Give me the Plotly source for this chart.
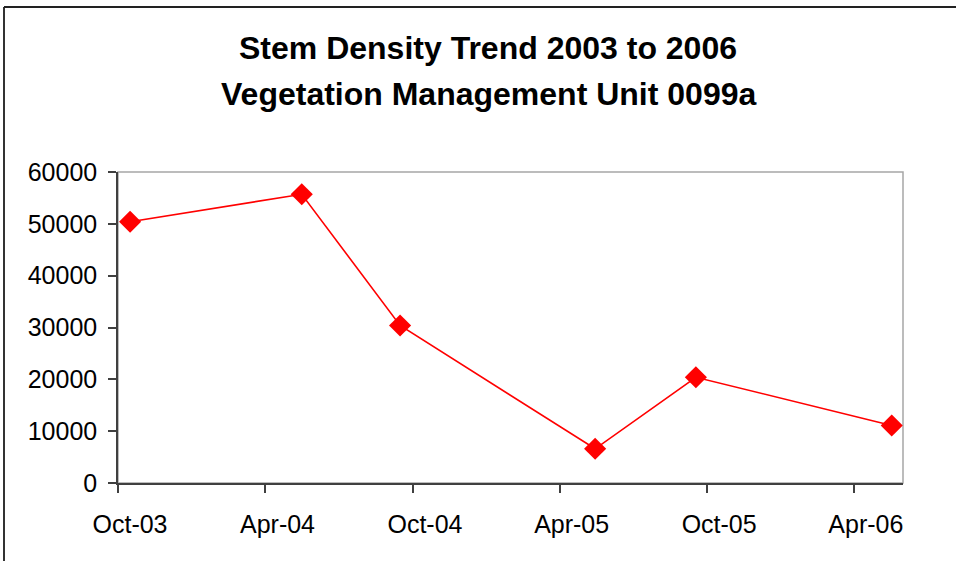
import plotly.graph_objects as go

# Data
dates = ["2003-10-16", "2004-05-16", "2004-09-15", "2005-05-15", "2005-09-17", "2006-05-18"]
stem_density = [50400, 55700, 30400, 6600, 20400, 11100]

tick_dates = ["2003-10-01", "2004-04-01", "2004-10-01", "2005-04-01", "2005-10-01", "2006-04-01"]
tick_labels = ["Oct-03", "Apr-04", "Oct-04", "Apr-05", "Oct-05", "Apr-06"]

title_line1 = "Stem Density Trend 2003 to 2006"
title_line2 = "Vegetation Management Unit 0099a"

W, H = 956, 561
L, R, T, B = 118, 53, 172, 78
pw = W - L - R
ph = H - T - B

def px_x(x):
    return (x - L) / pw

def px_y(y):
    return (H - B - y) / ph

font = "Liberation Sans, Arial, sans-serif"
axis_col = "#404040"

fig = go.Figure()
fig.add_trace(go.Scatter(
    x=dates, y=stem_density, mode="lines+markers",
    line=dict(color="#FF0000", width=1.6),
    marker=dict(symbol="diamond", size=17, color="#FF0000"),
    cliponaxis=False, showlegend=False,
))

fig.update_layout(
    width=W, height=H,
    margin=dict(l=L, r=R, t=T, b=B),
    paper_bgcolor="white", plot_bgcolor="white",
    font=dict(family=font, color="black"),
    xaxis=dict(
        type="date", range=["2003-10-01", "2006-06-01"],
        tickvals=tick_dates, ticktext=tick_labels,
        showgrid=False, zeroline=False,
        showline=True, linecolor=axis_col, linewidth=1.5,
        ticks="outside", ticklen=8, tickwidth=1.5, tickcolor=axis_col,
        tickfont=dict(size=25, family=font, color="black"),
        ticklabelstandoff=10, ticklabelshift=12,
    ),
    yaxis=dict(
        range=[0, 60000], dtick=10000, tick0=0, tickformat="d",
        showgrid=False, zeroline=False,
        showline=True, linecolor=axis_col, linewidth=1.5,
        ticks="outside", ticklen=8, tickwidth=1.5, tickcolor=axis_col,
        tickfont=dict(size=25, family=font, color="black"),
        ticklabelstandoff=6,
    ),
    shapes=[
        dict(type="rect", xref="paper", yref="paper", x0=0, x1=1, y0=0, y1=1,
             line=dict(color="#A6A6A6", width=1.5), layer="below"),
        dict(type="line", xref="paper", yref="paper",
             x0=px_x(4), x1=px_x(4), y0=px_y(7), y1=px_y(H + 10),
             line=dict(color="#333333", width=2)),
        dict(type="line", xref="paper", yref="paper",
             x0=px_x(4), x1=px_x(W + 10), y0=px_y(7), y1=px_y(7),
             line=dict(color="#222222", width=2)),
    ],
    annotations=[
        dict(text="<b>" + title_line1 + "</b>", xref="paper", yref="paper",
             x=px_x(488), y=px_y(48), xanchor="center", yanchor="middle",
             showarrow=False, font=dict(size=32, family=font, color="black")),
        dict(text="<b>" + title_line2 + "</b>", xref="paper", yref="paper",
             x=px_x(488), y=px_y(94), xanchor="center", yanchor="middle",
             showarrow=False, font=dict(size=32, family=font, color="black")),
    ],
)

fig.write_html("out.html", config={"displayModeBar": False},
               post_script="document.body.style.margin='0';")
